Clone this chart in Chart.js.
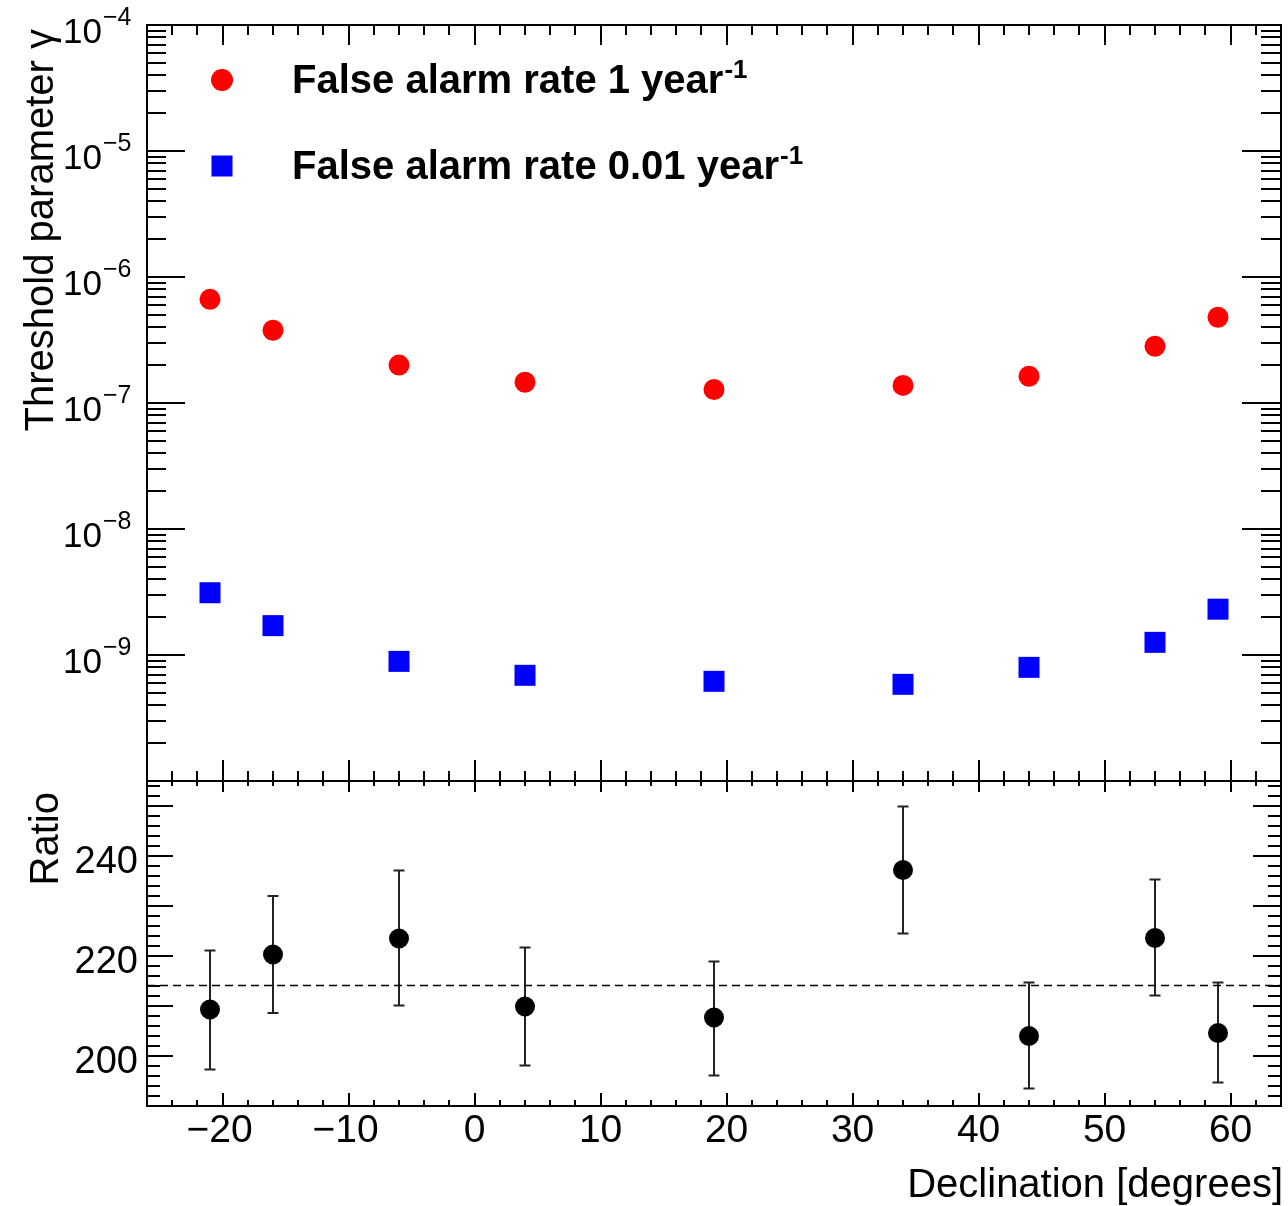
<!DOCTYPE html>
<html><head><meta charset="utf-8">
<script src="https://cdn.jsdelivr.net/npm/chart.js@4.4.0/dist/chart.umd.min.js"></script>
<style>
html,body{margin:0;padding:0;background:#fff;overflow:hidden;}
#wrap{position:relative;width:1288px;height:1206px;background:#fff;}
canvas{position:absolute;left:0;top:0;}
</style></head><body>
<div id="wrap"><canvas id="topc" width="1288" height="1206"></canvas><canvas id="botc" width="1288" height="1206"></canvas></div>
<script>
// ---- data ----
const declination = [-21, -16, -6, 4, 19, 34, 44, 54, 59];
const thresholdRate1 = [6.65e-7, 3.78e-7, 2.0e-7, 1.46e-7, 1.28e-7, 1.38e-7, 1.63e-7, 2.82e-7, 4.79e-7];
const thresholdRate001 = [3.12e-9, 1.71e-9, 8.9e-10, 6.9e-10, 6.18e-10, 5.85e-10, 7.98e-10, 1.26e-9, 2.31e-9];
const ratio = [209.3, 220.3, 223.5, 209.9, 207.7, 237.2, 204.0, 223.6, 204.6];
const ratioHigh = [221.1, 232.0, 237.1, 221.7, 218.9, 249.9, 214.7, 235.3, 214.7];
const ratioLow = [197.3, 208.6, 210.1, 198.1, 196.1, 224.5, 193.5, 212.1, 194.7];
const ratioMean = 214.1;
const xTickLabels = [-20, -10, 0, 10, 20, 30, 40, 50, 60];
const logTickExponents = [-4, -5, -6, -7, -8, -9];
const ratioTickLabels = [200, 220, 240];
const seriesNames = ['False alarm rate 1 year', 'False alarm rate 0.01 year'];
const xRange = [-26, 64];
const yLogRange = [1e-10, 1e-4];
const ratioRange = [190, 255];

const FONT = '"Liberation Sans", Arial, Helvetica, sans-serif';

function line(ctx, x1, y1, x2, y2) { ctx.beginPath(); ctx.moveTo(x1, y1); ctx.lineTo(x2, y2); ctx.stroke(); }

function drawXTicks(ctx, xs, a, topMaj, topMin, botMaj, botMin) {
  ctx.strokeStyle = '#000'; ctx.lineWidth = 2;
  for (let v = xRange[0]; v <= xRange[1]; v += 2) {
    const x = Math.round(xs.getPixelForValue(v));
    const maj = (v % 10 === 0);
    line(ctx, x, a.top, x, a.top + (maj ? topMaj : topMin));
    line(ctx, x, a.bottom, x, a.bottom - (maj ? botMaj : botMin));
  }
}
function drawFrame(ctx, a) {
  ctx.strokeStyle = '#000'; ctx.lineWidth = 2;
  ctx.strokeRect(a.left, a.top, a.right - a.left, a.bottom - a.top);
}

const topPlugin = {
  id: 'topDeco',
  afterDraw(chart) {
    const ctx = chart.ctx, a = chart.chartArea, xs = chart.scales.x, ys = chart.scales.y;
    ctx.save();
    drawFrame(ctx, a);
    drawXTicks(ctx, xs, a, 20, 10, 21, 10);
    for (let d = -10; d <= -4; d++) {
      for (let k = 1; k <= 9; k++) {
        const v = k * Math.pow(10, d);
        if (v < yLogRange[0] * 0.999 || v > yLogRange[1] * 1.001) continue;
        const y = Math.round(ys.getPixelForValue(v));
        const maj = (k === 1);
        line(ctx, a.left, y, a.left + (maj ? 38 : 19), y);
        line(ctx, a.right, y, a.right - (maj ? 39 : 20), y);
      }
    }
    ctx.fillStyle = '#000';
    logTickExponents.forEach(e => {
      const y = ys.getPixelForValue(Math.pow(10, e));
      ctx.font = '35px ' + FONT; ctx.textAlign = 'right'; ctx.textBaseline = 'alphabetic';
      ctx.fillText('10', 102, y + 17.5);
      ctx.font = '25px ' + FONT; ctx.textAlign = 'left';
      ctx.fillText('\u2212' + Math.abs(e), 103, y - 0.5);
    });
    ctx.save();
    ctx.translate(53, 29); ctx.rotate(-Math.PI / 2);
    ctx.font = '40px ' + FONT; ctx.textAlign = 'right'; ctx.textBaseline = 'alphabetic';
    ctx.fillText('Threshold parameter \u03B3', 0, 0);
    ctx.restore();
    ctx.fillStyle = '#ff0000';
    ctx.beginPath(); ctx.arc(222, 80, 11, 0, Math.PI * 2); ctx.fill();
    ctx.fillStyle = '#0000ff';
    ctx.fillRect(211.5, 155.5, 21, 21);
    ctx.fillStyle = '#000';
    const legendY = [93, 179];
    seriesNames.forEach((name, i) => {
      ctx.font = 'bold 40px ' + FONT; ctx.textAlign = 'left'; ctx.textBaseline = 'alphabetic';
      ctx.fillText(name, 292, legendY[i]);
      const w = ctx.measureText(name).width;
      ctx.font = 'bold 26px ' + FONT;
      ctx.fillText('-1', 292 + w + 1, legendY[i] - 15);
    });
    ctx.restore();
  }
};

const botPlugin = {
  id: 'botDeco',
  beforeDatasetsDraw(chart) {
    const ctx = chart.ctx, xs = chart.scales.x, ys = chart.scales.y;
    ctx.save();
    ctx.strokeStyle = '#222'; ctx.lineWidth = 2;
    declination.forEach((d, i) => {
      const x = Math.round(xs.getPixelForValue(d));
      const y1 = ys.getPixelForValue(ratioLow[i]), y2 = ys.getPixelForValue(ratioHigh[i]);
      line(ctx, x, y1, x, y2);
      line(ctx, x - 5.5, y1, x + 5.5, y1);
      line(ctx, x - 5.5, y2, x + 5.5, y2);
    });
    ctx.restore();
  },
  afterDraw(chart) {
    const ctx = chart.ctx, a = chart.chartArea, xs = chart.scales.x, ys = chart.scales.y;
    ctx.save();
    drawFrame(ctx, a);
    drawXTicks(ctx, xs, a, 11, 5, 13, 6);
    for (let v = ratioRange[0]; v <= ratioRange[1]; v += 2) {
      const y = Math.round(ys.getPixelForValue(v));
      const maj = (v % 10 === 0);
      line(ctx, a.left, y, a.left + (maj ? 26 : 13), y);
      line(ctx, a.right, y, a.right - (maj ? 28 : 13), y);
    }
    ctx.fillStyle = '#000';
    ctx.font = '38px ' + FONT; ctx.textAlign = 'right'; ctx.textBaseline = 'alphabetic';
    ratioTickLabels.forEach(v => {
      ctx.fillText(String(v), 138, ys.getPixelForValue(v) + 16.7);
    });
    ctx.font = '39px ' + FONT; ctx.textAlign = 'center';
    xTickLabels.forEach(v => {
      const s = v < 0 ? '\u2212' + Math.abs(v) : String(v);
      ctx.fillText(s, xs.getPixelForValue(v) - (v < 0 ? 3 : 0), 1141.7);
    });
    ctx.font = '40px ' + FONT; ctx.textAlign = 'right';
    ctx.fillText('Declination [degrees]', 1283, 1197);
    ctx.save();
    ctx.translate(58, 792); ctx.rotate(-Math.PI / 2);
    ctx.font = '40px ' + FONT; ctx.textAlign = 'right';
    ctx.fillText('Ratio', 0, 0);
    ctx.restore();
    ctx.restore();
  }
};

const common = {
  responsive: false, animation: false, devicePixelRatio: 1,
  events: [],
  plugins: { legend: { display: false }, tooltip: { enabled: false } }
};

new Chart(document.getElementById('topc'), {
  type: 'scatter',
  data: { datasets: [
    { label: seriesNames[0], data: declination.map((x, i) => ({ x, y: thresholdRate1[i] })),
      pointStyle: 'circle', pointRadius: 10.5, backgroundColor: '#ff0000', borderColor: '#ff0000', borderWidth: 0 },
    { label: seriesNames[1], data: declination.map((x, i) => ({ x, y: thresholdRate001[i] })),
      pointStyle: 'rect', pointRadius: 14.85, backgroundColor: '#0000ff', borderColor: '#0000ff', borderWidth: 0 }
  ] },
  options: Object.assign({}, common, {
    layout: { autoPadding: false, padding: { left: 147, right: 7, top: 25, bottom: 425 } },
    scales: {
      x: { type: 'linear', min: xRange[0], max: xRange[1], display: false },
      y: { type: 'logarithmic', min: yLogRange[0], max: yLogRange[1], display: false }
    }
  }),
  plugins: [topPlugin]
});

new Chart(document.getElementById('botc'), {
  type: 'scatter',
  data: { datasets: [
    { label: 'Ratio', data: declination.map((x, i) => ({ x, y: ratio[i] })),
      pointStyle: 'circle', pointRadius: 10, backgroundColor: '#000', borderColor: '#000', borderWidth: 0 },
    { type: 'line', label: 'Mean', data: [{ x: xRange[0], y: ratioMean }, { x: xRange[1], y: ratioMean }],
      showLine: true, pointRadius: 0, borderColor: '#000', borderWidth: 1.5, borderDash: [8, 5], fill: false }
  ] },
  options: Object.assign({}, common, {
    layout: { autoPadding: false, padding: { left: 147, right: 7, top: 781, bottom: 100 } },
    scales: {
      x: { type: 'linear', min: xRange[0], max: xRange[1], display: false },
      y: { type: 'linear', min: ratioRange[0], max: ratioRange[1], display: false }
    }
  }),
  plugins: [botPlugin]
});
</script>
</body></html>
